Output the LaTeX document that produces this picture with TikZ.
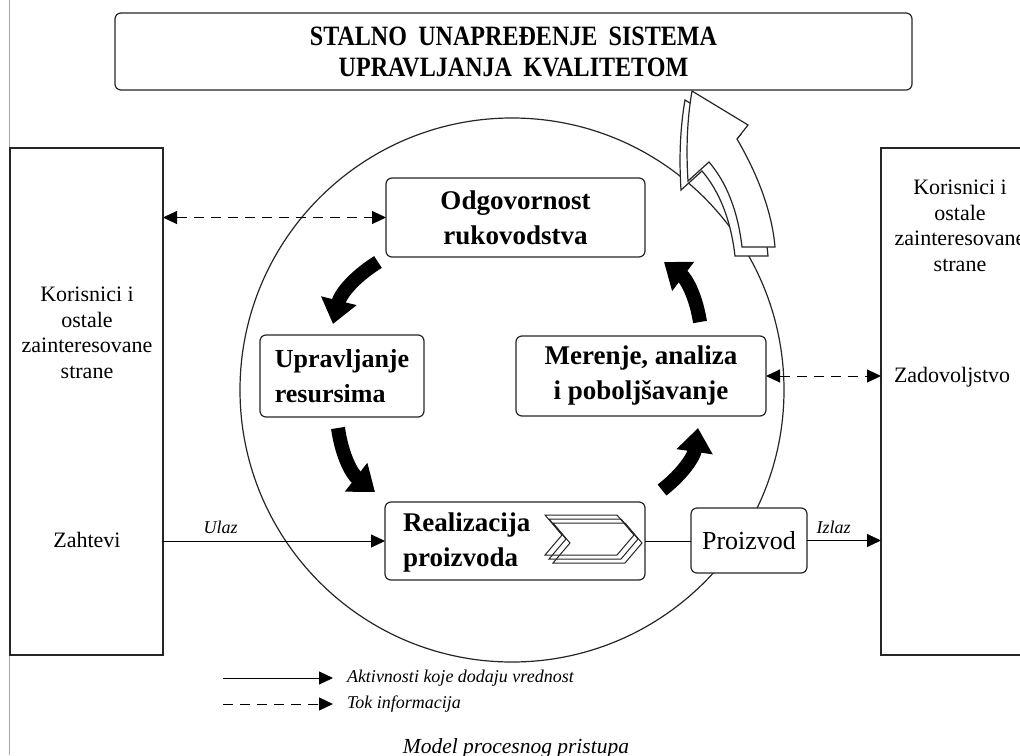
\documentclass[tikz,border=0pt]{standalone}
\usepackage{fontspec}
\setmainfont{Liberation Serif}
\usetikzlibrary{arrows.meta,calc}
\begin{document}
\begin{tikzpicture}[x=1pt,y=-1pt,
  >={Triangle[length=14pt,width=13pt]},
  every node/.style={inner sep=0pt, outer sep=0pt},
  rbox/.style={draw=black!85, line width=1.2pt, rounded corners=6pt, fill=white},
  sbox/.style={draw=black!85, line width=1.3pt},
  boldtxt/.style={font=\fontsize{27}{35}\selectfont\bfseries, align=center},
  plaintxt/.style={font=\fontsize{22}{25.5}\selectfont, align=center},
  smallit/.style={font=\fontsize{18}{20}\selectfont\itshape},
  flow/.style={line width=1pt, ->},
  infoline/.style={line width=1pt, dash pattern=on 10pt off 7pt},
  turn/.style={line width=14pt, -{Triangle[length=24pt,width=35pt]}},
  outline/.style={draw=black!85, line width=1.2pt, fill=white, line join=miter}
]
\useasboundingbox[fill=white] (0,0) rectangle (1020,755);

% page edge rule
\draw[black!35, line width=0.8pt] (9.5,0) -- (9.5,755);

% process cycle
\node[circle, draw=black!85, line width=1.2pt, minimum size=544pt] (ring) at (512,390) {};

% stakeholders
\node[sbox, minimum width=153pt, minimum height=507pt] (lbox) at (86.5,401.5) {};
\node[sbox, minimum width=170pt, minimum height=507pt, anchor=north west] (rbox) at (881,148) {};
\node[plaintxt] (ltxt) at (87,333) {Korisnici i\\ostale\\zainteresovane\\strane};
\node[plaintxt] (zaht) at (87,540) {Zahtevi};
\node[plaintxt] (rtxt) at (960,226) {Korisnici i\\ostale\\zainteresovane\\strane};
\node[plaintxt, anchor=west] (zad) at (894,377) {Zadovoljstvo};

% title
\node[rbox, minimum width=797pt, minimum height=77pt, align=center,
      font=\fontsize{28}{31}\selectfont\bfseries] (title) at (513.5,51.5)
  {\scalebox{0.86}[1]{\spaceskip=13pt STALNO UNAPREĐENJE SISTEMA}\\
   \scalebox{0.86}[1]{\spaceskip=13pt UPRAVLJANJA KVALITETOM}};

% process boxes
\node[rbox, boldtxt, minimum width=259pt, minimum height=79pt] (odg) at (515.5,217.5) {Odgovornost\\rukovodstva};
\node[rbox, boldtxt, font=\fontsize{26}{35}\selectfont\bfseries, align=left, minimum width=164pt, minimum height=82pt] (upr) at (342,376) {Upravljanje\\resursima};
\node[rbox, boldtxt, minimum width=250pt, minimum height=80pt] (mer) at (641,376) {Merenje, analiza\\i poboljšavanje};
\node[rbox, minimum width=260pt, minimum height=78pt] (real) at (515,541) {};
\node[boldtxt, align=left, anchor=west] (realtxt) at (403,542) {Realizacija\\proizvoda};
\node[rbox, font=\fontsize{26}{30}\selectfont, minimum width=116pt, minimum height=65pt] (prod) at (749,540.5) {Proizvod};

% stacked chevrons inside the realization box
\foreach \d in {0,4,8} {
  \draw[black!85, line width=1pt, shift={(545+\d,515+\d)}]
    (0,0) -- (72,0) -- (89,20) -- (72,40) -- (0,40) -- (17,20) -- cycle;
}

% information flows
\draw[infoline, <->] (lbox.east |- odg.west) -- (odg.west);
\draw[infoline, <->] (mer.east) -- (rbox.west |- mer.east);

% value-adding flows
\draw[flow] (lbox.east |- real.west) -- node[pos=0.26, above=7pt, smallit] (ulaz) {Ulaz} (real.west);
\draw[line width=1pt] (real.east) -- (prod.west |- real.east);
\draw[flow] (prod.east) -- node[pos=0.36, above=7pt, smallit] (izlaz) {Izlaz} (rbox.west |- prod.east);

% cycle arrows
\coordinate (t1s) at (378,262); \coordinate (t1e) at (333,324);
\coordinate (t2s) at (338,428); \coordinate (t2e) at (375,492);
\coordinate (t3s) at (662,490); \coordinate (t3e) at (698,428);
\coordinate (t4s) at (700,322); \coordinate (t4e) at (664,262);
\draw[turn] (t1s) to[bend right=22] (t1e);
\draw[turn] (t2s) to[bend right=22] (t2e);
\draw[turn] (t3s) to[bend right=22] (t3e);
\draw[turn] (t4s) to[bend right=22] (t4e);

% continual improvement arrow
\foreach \dx/\dy in {-7/9, 0/0} {
  \draw[outline, shift={(\dx,\dy)}]
    (692,91) -- (748,125) -- (737,139)
    .. controls (758,175) and (772,212) .. (775,247)
    -- (742,247)
    .. controls (738,212) and (727,183) .. (709,162)
    -- (688,181)
    .. controls (686,150) and (687,120) .. (692,91) -- cycle;
}

% legend
\coordinate (lg1a) at (223,678); \coordinate (lg1b) at (333,678);
\coordinate (lg2a) at (223,704); \coordinate (lg2b) at (333,704);
\draw[flow] (lg1a) -- (lg1b);
\draw[infoline, ->] (lg2a) -- (lg2b);
\node[smallit, anchor=west] (lgt1) at (347,678) {Aktivnosti koje dodaju vrednost};
\node[smallit, anchor=west] (lgt2) at (347,704) {Tok informacija};

% caption
\node[font=\fontsize{21.5}{24}\selectfont\itshape, anchor=base] (cap) at (516,753) {Model procesnog pristupa};
\end{tikzpicture}
\end{document}
